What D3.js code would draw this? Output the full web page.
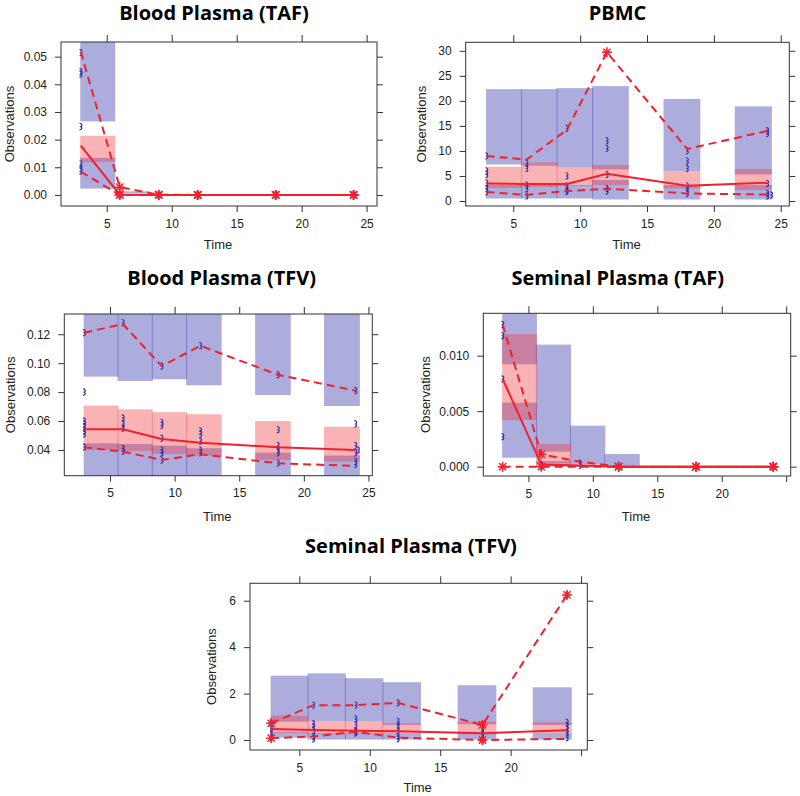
<!DOCTYPE html>
<html><head><meta charset="utf-8">
<script src="https://cdn.jsdelivr.net/npm/d3@7"></script>
<style>body{margin:0;background:#fff} svg{display:block}</style>
</head><body>
<svg id="chart" width="800" height="796"></svg>
<script>
// ---------- shared data ----------
const times = [3, 6, 9, 12, 18, 24];
const bins = [[3, 5.62], [5.62, 8.27], [8.27, 10.93], [10.93, 13.6], [16.27, 18.95], [21.6, 24.3]];

// ---------- Blood Plasma (TAF) ----------
const bpTafHiCI  = [[0.0266, 0.06], [0.0006, 0.0013], [0, 0], [0, 0], [0, 0], [0, 0]];
const bpTafMedCI = [[0.0119, 0.0214], [0.0002, 0.0006], [0, 0], [0, 0], [0, 0], [0, 0]];
const bpTafLoCI  = [[0.0023, 0.0134], [0, 0.0002], [0, 0], [0, 0], [0, 0], [0, 0]];
const bpTafObsMed = [0.0178, 0.0001, 0, 0, 0, 0];
const bpTafObs95  = [0.0518, 0.0028, 0.0001, 0, 0, 0];
const bpTafObs5   = [0.0084, 0, 0, 0, 0, 0];
const bpTafStar95  = [0, 1, 1, 1, 1, 1];
const bpTafStarMed = [0, 1, 1, 1, 1, 1];
const bpTafStar5   = [0, 1, 1, 1, 1, 1];
const bpTafObs = [[3, 0.0515], [3, 0.0445], [3, 0.0437], [3, 0.0247], [3, 0.0112], [3, 0.0095], [3, 0.0086],
  [6, 0.0003], [6, 0], [9, 0], [12, 0], [18, 0], [24, 0]];

// ---------- PBMC ----------
const pbmcHiCI  = [[7.3, 22.35], [7.05, 22.35], [6.7, 22.55], [6.3, 22.95], [6.0, 20.4], [5.3, 18.9]];
const pbmcMedCI = [[2.6, 6.85], [2.8, 7.7], [3.0, 6.7], [3.2, 7.2], [2.5, 6.0], [2.2, 6.4]];
const pbmcLoCI  = [[0.5, 3.2], [0.5, 3.2], [0.5, 3.2], [0.3, 4.2], [0.3, 3.2], [0.3, 3.2]];
const pbmcObsMed = [3.5, 3.4, 3.4, 5.45, 3.05, 3.65];
const pbmcObs95  = [8.98, 8.3, 14.2, 29.7, 10.4, 14.0];
const pbmcObs5   = [1.8, 1.2, 2.0, 2.45, 1.5, 1.3];
const pbmcStar95  = [0, 0, 0, 1, 0, 0];
const pbmcStarMed = [0, 0, 0, 0, 0, 0];
const pbmcStar5   = [0, 0, 0, 0, 0, 0];
const pbmcObs = [[3, 9], [3, 6], [3, 5.3], [3, 3.6], [3, 2.5], [3, 1.8],
  [6, 7.5], [6, 6.5], [6, 3.2], [6, 2.5], [6, 1.0],
  [9, 14.5], [9, 5], [9, 3], [9, 2.2], [9, 1.9],
  [12, 12], [12, 10.5], [12, 5.3], [12, 2.5], [12, 2.0],
  [18, 10], [18, 8], [18, 6.5], [18, 3], [18, 2], [18, 1.5],
  [24, 14], [24, 13.5], [24, 3.5], [24, 1.5], [24, 1.0], [24.3, 1.2]];

// ---------- Blood Plasma (TFV) ----------
const bpTfvHiCI  = [[0.0907, 0.14], [0.0877, 0.14], [0.0889, 0.14], [0.0847, 0.14], [0.078, 0.14], [0.0704, 0.14]];
const bpTfvMedCI = [[0.040, 0.0707], [0.0393, 0.0681], [0.0372, 0.0661], [0.0361, 0.0647], [0.0331, 0.060], [0.0319, 0.0561]];
const bpTfvLoCI  = [[0.015, 0.0446], [0.015, 0.0441], [0.015, 0.043], [0.015, 0.0412], [0.015, 0.0381], [0.015, 0.0361]];
const bpTfvObsMed = [0.0543, 0.0543, 0.0476, 0.045, 0.0419, 0.040];
const bpTfvObs95  = [0.1211, 0.127, 0.098, 0.112, 0.092, 0.081];
const bpTfvObs5   = [0.0419, 0.0388, 0.0331, 0.037, 0.0308, 0.0289];
const bpTfvStar95  = [0, 0, 0, 0, 0, 0];
const bpTfvStarMed = [0, 0, 0, 0, 0, 0];
const bpTfvStar5   = [0, 0, 0, 0, 0, 0];
const bpTfvObs = [[3, 0.121], [3, 0.080], [3, 0.060], [3, 0.058], [3, 0.056], [3, 0.053], [3, 0.051], [3, 0.042],
  [6, 0.128], [6, 0.062], [6, 0.058], [6, 0.055], [6, 0.041], [6, 0.039],
  [9, 0.098], [9, 0.059], [9, 0.057], [9, 0.048], [9, 0.040], [9, 0.038], [9, 0.033],
  [12, 0.112], [12, 0.053], [12, 0.051], [12, 0.046], [12, 0.040], [12, 0.038],
  [18, 0.092], [18, 0.054], [18, 0.043], [18, 0.040], [18, 0.038], [18, 0.031],
  [24, 0.081], [24, 0.058], [24, 0.043], [24.2, 0.040], [24, 0.038], [24, 0.032], [24, 0.030]];

// ---------- Seminal Plasma (TAF) ----------
const spTafHiCI  = [[0.00922, 0.015], [0.00135, 0.0110], [0.0002, 0.0037], [0.0001, 0.00114], [0, 0], [0, 0]];
const spTafMedCI = [[0.0042, 0.01195], [0.0003, 0.00204], [0, 0.0002], [0, 0.0001], [0, 0], [0, 0]];
const spTafLoCI  = [[0.00081, 0.00577], [0, 0.0005], [0, 0.0001], [0, 0], [0, 0], [0, 0]];
const spTafObsMed = [0.0079, 0.0002, 0.0001, 0, 0, 0];
const spTafObs95  = [0.0128, 0.00111, 0.00045, 0, 0, 0];
const spTafObs5   = [0, 0, 0, 0, 0, 0];
const spTafStar95  = [0, 1, 0, 1, 1, 1];
const spTafStarMed = [0, 0, 0, 1, 1, 1];
const spTafStar5   = [1, 1, 0, 1, 1, 1];
const spTafObs = [[3, 0.0128], [3, 0.0118], [3, 0.0079], [3, 0.0027], [6, 0.0002], [6, 0], [9, 0.0003], [9, 0.0001], [24, 0]];

// ---------- Seminal Plasma (TFV) ----------
const spTfvHiCI  = [[0.79, 2.77], [0.82, 2.87], [0.8, 2.66], [0.65, 2.49], [0.68, 2.36], [0.65, 2.27]];
const spTfvMedCI = [[0.3, 1.05], [0.25, 0.82], [0.25, 0.8], [0.3, 0.72], [0.25, 0.79], [0.3, 0.76]];
const spTfvLoCI  = [[0.1, 0.35], [0.02, 0.3], [0.02, 0.3], [0.02, 0.3], [0.02, 0.3], [0.02, 0.3]];
const spTfvObsMed = [0.47, 0.43, 0.4, 0.38, 0.29, 0.42];
const spTfvObs95  = [0.72, 1.5, 1.5, 1.6, 0.65, 6.25];
const spTfvObs5   = [0.08, 0.15, 0.36, 0.1, 0.0, 0.05];
const spTfvStar95  = [1, 0, 0, 0, 1, 1];
const spTfvStarMed = [0, 0, 0, 0, 0, 0];
const spTfvStar5   = [1, 0, 0, 0, 1, 0];
const spTfvObs = [[3, 0.72], [3, 0.5], [3, 0.3], [3, 0.1],
  [6, 1.5], [6, 0.7], [6, 0.55], [6, 0.4], [6, 0.15], [6, 0.05],
  [9, 1.5], [9, 0.9], [9, 0.65], [9, 0.4], [9, 0.35], [9, 0.3],
  [12, 1.6], [12, 0.8], [12, 0.6], [12, 0.4], [12, 0.15], [12, 0.05],
  [18, 0.65], [18, 0.5], [18, 0.3], [18, 0.1], [18, 0],
  [24, 6.25], [24, 0.75], [24, 0.6], [24, 0.45], [24, 0.3], [24, 0.1]];

// ---------- tick labels ----------
const xTicksFull = [5, 10, 15, 20, 25];
const xLabelsFull = [5, 10, 15, 20, 25];
const xLabelsShort = [5, 10, 15, 20];
const bpTafYTicks = [0, 0.01, 0.02, 0.03, 0.04, 0.05];
const pbmcYTicks = [0, 5, 10, 15, 20, 25, 30];
const bpTfvYTicks = [0.04, 0.06, 0.08, 0.10, 0.12];
const spTafYTicks = [0, 0.005, 0.010];
const spTfvYTicks = [0, 2, 4, 6];

// ---------- panels (layout + references to data) ----------
const panels = [
  { title: "Blood Plasma (TAF)", box: [61, 42, 377, 206], xDom: [1.48, 25.8], yDom: [-0.004, 0.0553],
    yTicks: bpTafYTicks, yFmt: ".2f", xLabels: xLabelsFull, titleX: 214, titleY: 20, ylabX: 9.5, timeY: 249,
    hi: bpTafHiCI, med: bpTafMedCI, lo: bpTafLoCI, oMed: bpTafObsMed, o95: bpTafObs95, o5: bpTafObs5,
    s95: bpTafStar95, sMed: bpTafStarMed, s5: bpTafStar5, obs: bpTafObs },
  { title: "PBMC", box: [465.7, 42.3, 789.3, 206], xDom: [1.44, 25.64], yDom: [-1.0, 31.7],
    yTicks: pbmcYTicks, yFmt: "d", xLabels: xLabelsFull, titleX: 617.5, titleY: 20, ylabX: 421.7, timeY: 249,
    hi: pbmcHiCI, med: pbmcMedCI, lo: pbmcLoCI, oMed: pbmcObsMed, o95: pbmcObs95, o5: pbmcObs5,
    s95: pbmcStar95, sMed: pbmcStarMed, s5: pbmcStar5, obs: pbmcObs },
  { title: "Blood Plasma (TFV)", box: [64.3, 314, 372.3, 475.7], xDom: [1.46, 25.3], yDom: [0.0222, 0.134],
    yTicks: bpTfvYTicks, yFmt: ".2f", xLabels: xLabelsFull, titleX: 221.7, titleY: 285, ylabX: 10, timeY: 521,
    hi: bpTfvHiCI, med: bpTfvMedCI, lo: bpTfvLoCI, oMed: bpTfvObsMed, o95: bpTfvObs95, o5: bpTfvObs5,
    s95: bpTfvStar95, sMed: bpTfvStarMed, s5: bpTfvStar5, obs: bpTfvObs },
  { title: "Seminal Plasma (TAF)", box: [483.3, 313.3, 790.7, 476], xDom: [1.5, 25.35], yDom: [-0.00084, 0.01382],
    yTicks: spTafYTicks, yFmt: ".3f", xLabels: xLabelsShort, titleX: 617.7, titleY: 285, ylabX: 425, timeY: 521,
    hi: spTafHiCI, med: spTafMedCI, lo: spTafLoCI, oMed: spTafObsMed, o95: spTafObs95, o5: spTafObs5,
    s95: spTafStar95, sMed: spTafStarMed, s5: spTafStar5, obs: spTafObs },
  { title: "Seminal Plasma (TFV)", box: [250, 583.3, 587.3, 750], xDom: [1.5, 25.44], yDom: [-0.43, 6.75],
    yTicks: spTfvYTicks, yFmt: "d", xLabels: xLabelsShort, titleX: 411, titleY: 553, ylabX: 211.7, timeY: 792,
    hi: spTfvHiCI, med: spTfvMedCI, lo: spTfvLoCI, oMed: spTfvObsMed, o95: spTfvObs95, o5: spTfvObs5,
    s95: spTfvStar95, sMed: spTfvStarMed, s5: spTfvStar5, obs: spTfvObs }
];

const BLUE = "rgb(60,60,175)", BLUE_OP = 0.42;
const RED_FILL = "rgb(242,55,60)", RED_OP = 0.38;
const RED = "#f2202c";
const PT = "#2f2fa8";
const FONT = "'Liberation Sans', Arial, sans-serif";

const svg = d3.select("#chart");

panels.forEach((p, pi) => {
  const [L, T, R, B] = p.box;
  const x = d3.scaleLinear().domain(p.xDom).range([L, R]);
  const y = d3.scaleLinear().domain(p.yDom).range([B, T]);
  const g = svg.append("g");

  const clipId = "clip" + pi;
  svg.append("clipPath").attr("id", clipId).append("rect")
    .attr("x", L).attr("y", T).attr("width", R - L).attr("height", B - T);
  const plot = g.append("g").attr("clip-path", `url(#${clipId})`);

  function boxes(ci, fill, op) {
    plot.append("g").selectAll("rect").data(ci.map((c, i) => ({ c, b: bins[i] })))
      .join("rect")
      .attr("x", d => x(d.b[0]) - 0.5)
      .attr("width", d => x(d.b[1]) - x(d.b[0]) + 1)
      .attr("y", d => y(d.c[1]))
      .attr("height", d => Math.max(0, y(d.c[0]) - y(d.c[1])))
      .attr("fill", fill).attr("fill-opacity", op);
  }
  boxes(p.hi, BLUE, BLUE_OP);
  boxes(p.lo, BLUE, BLUE_OP);
  boxes(p.med, RED_FILL, RED_OP);

  // observations
  plot.append("g").selectAll("path").data(p.obs).join("path")
    .attr("transform", d => `translate(${x(d[0])},${y(d[1])})`)
    .attr("d", "M-1.2,-3.2 C1.8,-3 1.6,-0.8 0,0 C1.6,0.8 1.8,3 -1.2,3.2")
    .attr("fill", "none").attr("stroke", PT).attr("stroke-width", 1.2);

  const line = d3.line().x((d, i) => x(times[i])).y(d => y(d));
  plot.append("path").datum(p.o95).attr("d", line)
    .attr("fill", "none").attr("stroke", RED).attr("stroke-width", 2).attr("stroke-dasharray", "8,5");
  plot.append("path").datum(p.o5).attr("d", line)
    .attr("fill", "none").attr("stroke", RED).attr("stroke-width", 2).attr("stroke-dasharray", "8,5");
  plot.append("path").datum(p.oMed).attr("d", line)
    .attr("fill", "none").attr("stroke", RED).attr("stroke-width", 2);

  // stars (pch 8)
  const starPath = "M-5,0H5M0,-5V5M-3.6,-3.6L3.6,3.6M-3.6,3.6L3.6,-3.6";
  [[p.o95, p.s95], [p.oMed, p.sMed], [p.o5, p.s5]].forEach(([vals, flags]) => {
    const pts = vals.map((v, i) => ({ t: times[i], v, f: flags[i] })).filter(d => d.f);
    g.append("g").selectAll("path").data(pts).join("path")
      .attr("transform", d => `translate(${x(d.t)},${y(d.v)})`)
      .attr("d", starPath).attr("stroke", RED).attr("stroke-width", 1.5).attr("fill", "none");
  });

  // frame
  g.append("rect").attr("x", L).attr("y", T).attr("width", R - L).attr("height", B - T)
    .attr("fill", "none").attr("stroke", "#333").attr("stroke-width", 1);

  const xfmt = d => p.xLabels.includes(d) ? d3.format("d")(d) : "";
  const yfmt = d3.format(p.yFmt);
  const styleAxis = sel => {
    sel.select(".domain").remove();
    sel.selectAll("line").attr("stroke", "#333");
    sel.selectAll("text").attr("font-family", FONT).attr("font-size", 12).attr("fill", "#222");
  };
  g.append("g").attr("transform", `translate(0,${B})`)
    .call(d3.axisBottom(x).tickValues(xTicksFull).tickSize(6).tickPadding(7).tickFormat(xfmt)).call(styleAxis);
  g.append("g").attr("transform", `translate(0,${T})`)
    .call(d3.axisTop(x).tickValues(xTicksFull).tickSize(7).tickFormat("")).call(styleAxis);
  g.append("g").attr("transform", `translate(${L},0)`)
    .call(d3.axisLeft(y).tickValues(p.yTicks).tickSize(6).tickPadding(8).tickFormat(yfmt)).call(styleAxis);
  g.append("g").attr("transform", `translate(${R},0)`)
    .call(d3.axisRight(y).tickValues(p.yTicks).tickSize(6).tickFormat("")).call(styleAxis);

  // labels
  g.append("text").attr("x", p.titleX).attr("y", p.titleY).attr("text-anchor", "middle")
    .attr("font-family", "'Open Sans', Lato, sans-serif").attr("font-weight", "bold").attr("font-size", 20)
    .attr("fill", "#000").text(p.title);
  g.append("text").attr("x", (L + R) / 2 - 1).attr("y", p.timeY).attr("text-anchor", "middle")
    .attr("font-family", FONT).attr("font-size", 13).attr("fill", "#222").text("Time");
  g.append("text").attr("transform", `translate(${p.ylabX + 4.5},${(T + B) / 2}) rotate(-90)`)
    .attr("text-anchor", "middle").attr("font-family", FONT).attr("font-size", 13).attr("fill", "#222")
    .text("Observations");
});
</script>
</body></html>
